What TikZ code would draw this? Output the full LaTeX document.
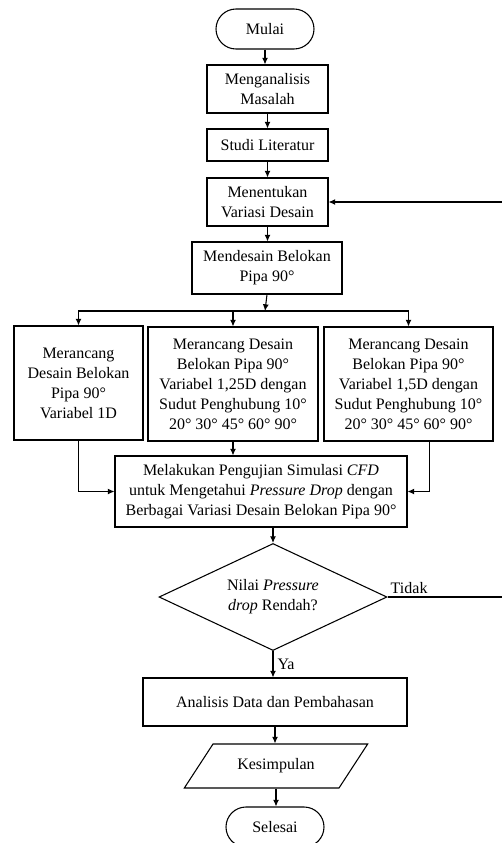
\documentclass[tikz,border=0pt]{standalone}
\usepackage{fontspec}
\setmainfont{Liberation Serif}
\usetikzlibrary{shapes.geometric,arrows.meta}

\begin{document}
\begin{tikzpicture}[x=0.75pt, y=-0.75pt,
        every node/.style={font=\fontsize{12}{15}\selectfont, align=center},
        proses/.style={draw, line width=0.8pt, inner sep=2pt},
        terminal/.style={draw, line width=0.8pt, rounded corners=15pt, minimum width=73.5pt, minimum height=30pt},
        keputusan/.style={draw, line width=0.8pt, diamond, aspect=2.13, minimum width=171pt, minimum height=80.25pt, inner sep=0pt},
        io/.style={draw, line width=0.8pt, trapezium, trapezium left angle=50, trapezium right angle=130, trapezium stretches=true, minimum width=138pt, minimum height=33pt},
        panah/.style={line width=0.8pt, -{Latex[length=5pt,width=4.5pt]}},
        garis/.style={line width=0.8pt}]
        \useasboundingbox (0,0) rectangle (502,843);
        \clip (0,0) rectangle (502,843);
        % alur utama
        \node[terminal] (mulai) at (265,29) {Mulai};
        \node[proses, minimum width=90.75pt, minimum height=36pt] (analisa) at (267.5,89) {Menganalisis\\Masalah};
        \node[proses, minimum width=90.75pt, minimum height=24pt] (studi) at (267.5,145) {Studi Literatur};
        \node[proses, minimum width=90.75pt, minimum height=36pt] (tentukan) at (267.5,202) {Menentukan\\Variasi Desain};
        \node[proses, minimum width=112.5pt, minimum height=39pt] (desain) at (267,268) {Mendesain Belokan\\Pipa 90°};
        \node[proses, minimum width=96.75pt, minimum height=85.5pt] (var1) at (78.5,383) {Merancang\\Desain Belokan\\Pipa 90°\\Variabel 1D};
        \node[proses, minimum width=127.5pt, minimum height=85.5pt] (var2) at (233,384) {Merancang Desain\\Belokan Pipa 90°\\Variabel 1,25D dengan\\Sudut Penghubung 10°\\20° 30° 45° 60° 90°};
        \node[proses, minimum width=126.75pt, minimum height=85.5pt] (var3) at (408.5,384) {Merancang Desain\\Belokan Pipa 90°\\Variabel 1,5D dengan\\Sudut Penghubung 10°\\20° 30° 45° 60° 90°};
        \node[proses, minimum width=219pt, minimum height=53.25pt] (cfd) at (261,491.5) {Melakukan Pengujian Simulasi \textit{CFD}\\untuk Mengetahui \textit{Pressure Drop} dengan\\Berbagai Variasi Desain Belokan Pipa 90°};
        \node[keputusan] (cek) at (273,597) {Nilai \textit{Pressure}\\\textit{drop} Rendah?};
        \node[proses, minimum width=198pt, minimum height=36pt] (hasil) at (275,702) {Analisis Data dan Pembahasan};
        \node[io] (simpul) at (276,766) {Kesimpulan};
        \node[terminal] (selesai) at (275,827) {Selesai};
        \coordinate (cabang) at (265,311);
        \coordinate (balik) at (512,597);

        \draw[panah] (mulai.south) -- (mulai.south |- analisa.north);
        \draw[panah] (analisa.south) -- (analisa.south |- studi.north);
        \draw[panah] (studi.south) -- (studi.south |- tentukan.north);
        \draw[panah] (tentukan.south) -- (tentukan.south |- desain.north);
        \draw[panah] (desain.south) -- (cabang);
        \draw[panah] (cabang) -| (var1.north);
        \draw[panah] (cabang) -| (var2.north);
        \draw[panah] (cabang) -| (var3.north);
        \draw[panah] (var1.south) |- (cfd.west);
        \draw[panah] (var2.south) -- (var2.south |- cfd.north);
        \draw[panah] ([xshift=16pt]var3.south) |- (cfd.east);
        \draw[panah] (cek.north |- cfd.south) -- (cek.north);
        \draw[panah] (cek.south) -- (cek.south |- hasil.north) node[midway, right, inner sep=3pt] {Ya};
        \draw[panah] (hasil.south) -- (hasil.south |- simpul.north);
        \draw[panah] (simpul.south) -- (simpul.south |- selesai.north);
        \draw[panah] (cek.east) node[above right, inner sep=2pt] {Tidak} -- (balik) |- (tentukan.east);
\end{tikzpicture}
\end{document}
